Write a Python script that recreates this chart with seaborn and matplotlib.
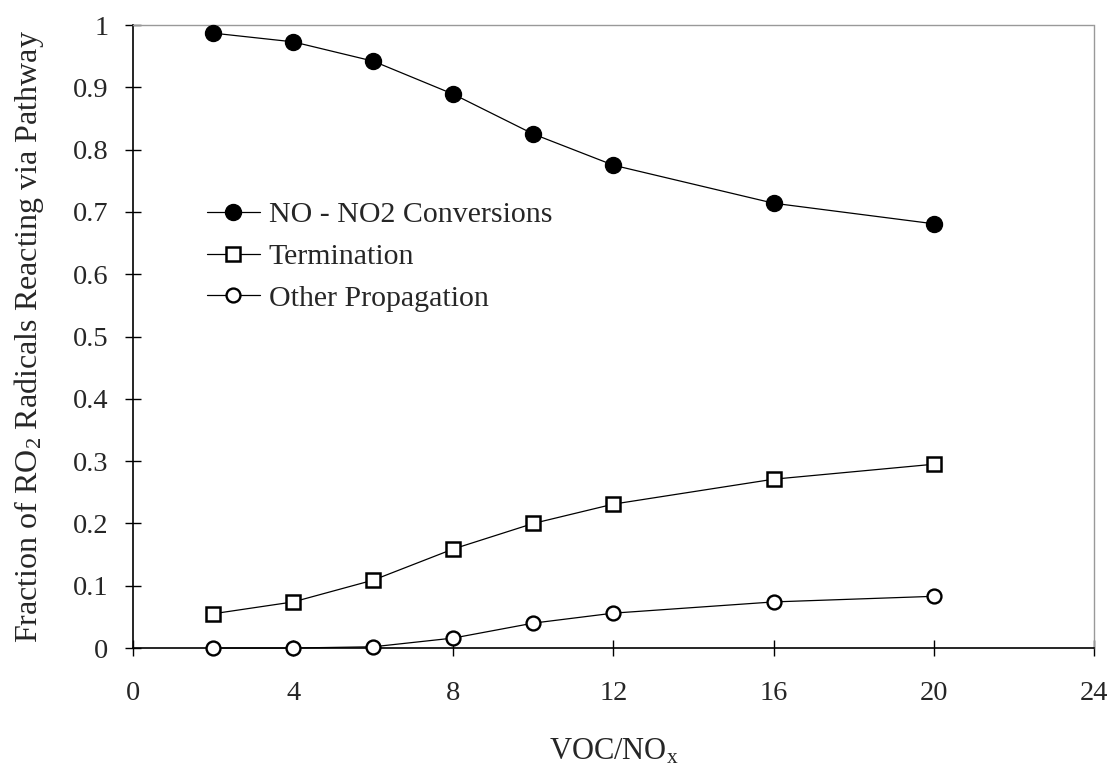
import matplotlib
matplotlib.use("Agg")
import matplotlib.pyplot as plt
import seaborn as sns
import pandas as pd

voc_nox = [2, 4, 6, 8, 10, 12, 16, 20]
no_no2 = [0.987, 0.973, 0.942, 0.889, 0.825, 0.775, 0.714, 0.681]
termination = [0.055, 0.074, 0.109, 0.159, 0.200, 0.231, 0.271, 0.295]
other_prop = [0.0, 0.0, 0.002, 0.016, 0.040, 0.056, 0.074, 0.083]
series_names = ["NO - NO2 Conversions", "Termination", "Other Propagation"]
x_ticks = [0, 4, 8, 12, 16, 20, 24]
y_ticks = [0, 0.1, 0.2, 0.3, 0.4, 0.5, 0.6, 0.7, 0.8, 0.9, 1.0]
y_tick_labels = ["0", "0.1", "0.2", "0.3", "0.4", "0.5", "0.6", "0.7", "0.8", "0.9", "1"]

sns.set_theme(style="white")
plt.rcParams["font.family"] = ["Liberation Serif", "DejaVu Serif"]
plt.rcParams["mathtext.fontset"] = "custom"
plt.rcParams["mathtext.rm"] = "Liberation Serif"
plt.rcParams["mathtext.it"] = "Liberation Serif"

df = pd.DataFrame({
    "x": voc_nox * 3,
    "y": no_no2 + termination + other_prop,
    "series": sum([[n] * len(voc_nox) for n in series_names], []),
})

fig = plt.figure(figsize=(11.15, 7.7), dpi=100)
ax = fig.add_axes([0.1193, 0.1584, 0.8617, 0.8091])

styles = {
    series_names[0]: dict(marker="o", markersize=11.5, markerfacecolor="black", markeredgecolor="black", markeredgewidth=1),
    series_names[1]: dict(marker="s", markersize=10.5, markerfacecolor="white", markeredgecolor="black", markeredgewidth=1.8),
    series_names[2]: dict(marker="o", markersize=10, markerfacecolor="white", markeredgecolor="black", markeredgewidth=1.7),
}
for name in series_names:
    sub = df[df["series"] == name]
    sns.lineplot(data=sub, x="x", y="y", ax=ax, color="black", linewidth=0.9,
                 label=name, zorder=3, clip_on=False, **styles[name])

ax.set_xlim(0, 24)
ax.set_ylim(0, 1)
ax.set_xticks(x_ticks)
ax.set_xticklabels([str(t) for t in x_ticks])
ax.set_yticks(y_ticks)
ax.set_yticklabels(y_tick_labels)
ax.tick_params(axis="both", direction="inout", length=11.5, width=1, color="black",
               labelsize=20.5, bottom=True, left=True)
ax.tick_params(axis="x", pad=18)
ax.tick_params(axis="y", pad=12)

for s in ["left", "bottom"]:
    ax.spines[s].set_color("black")
    ax.spines[s].set_linewidth(1.2)
for s in ["top", "right"]:
    ax.spines[s].set_color("#999999")
    ax.spines[s].set_linewidth(1.0)
    ax.spines[s].set_linestyle((0, (1, 1)))

ax.set_xlabel("VOC/NO$_\\mathregular{x}$", fontsize=22, labelpad=22)
ax.set_ylabel("Fraction of RO$_\\mathregular{2}$ Radicals Reacting via Pathway", fontsize=23, labelpad=19)

leg = ax.legend(loc="upper left", bbox_to_anchor=(0.077, 0.717), frameon=False,
                fontsize=21.5, handlelength=1.77, handletextpad=0.3, labelspacing=0.5,
                borderaxespad=0, borderpad=0)

fig.savefig("out.png", dpi=100)
